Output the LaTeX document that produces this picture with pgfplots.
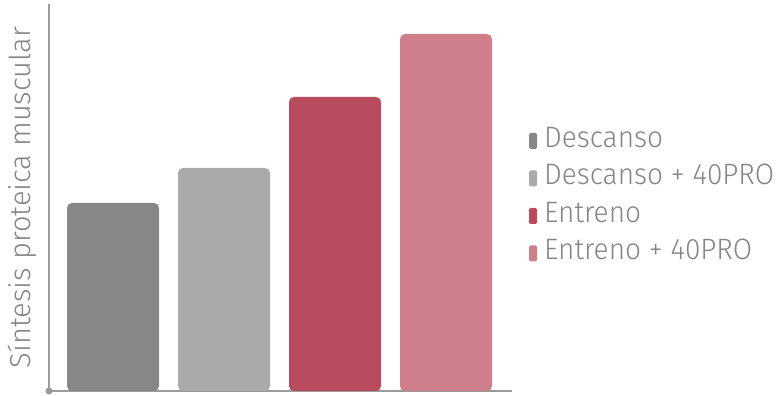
\documentclass[border=0pt]{standalone}
\usepackage{pgfplots}
\pgfplotsset{compat=1.18}
\usepackage{fontspec}
\setmainfont{Fira Sans}[UprightFont=* Light]
\newfontfamily\legfont{Fira Sans}[UprightFont=* Light, FakeStretch=0.95]
\definecolor{cA}{HTML}{878787}
\definecolor{cB}{HTML}{AAAAAA}
\definecolor{cC}{HTML}{B84B5E}
\definecolor{cD}{HTML}{CF7F8C}
\definecolor{txt}{HTML}{858585}
\definecolor{axc}{HTML}{9A9A9A}
\begin{document}
\begin{tikzpicture}
\useasboundingbox (0,0) rectangle (779pt,396pt);
\begin{axis}[
  at={(49pt,5pt)}, anchor=south west,
  scale only axis, width=463pt, height=387pt,
  xmin=49, xmax=512, ymin=0, ymax=387,
  axis x line*=bottom, axis y line*=left,
  axis line style={draw=axc, line width=2pt, -},
  xtick=\empty, ytick=\empty,
  ylabel={Síntesis proteica muscular},
  ylabel style={at={(axis description cs:-0.058,0.5)}, anchor=center, font=\fontsize{29}{30}\selectfont, text=txt},
  ybar, bar width=92, bar shift=0pt,
  every axis plot/.append style={draw=none, rounded corners=5pt},
  legend style={at={(axis description cs:1.0365,0.695)}, anchor=north west, draw=none, fill=none,
    font=\legfont\fontsize{29.5}{30}\selectfont, text=txt, row sep=0pt,
    inner sep=0pt, cells={anchor=west},
    nodes={text height=22pt, text depth=9.5pt, inner sep=3pt}},
  legend cell align=left,
  legend image code/.code={\fill[#1, rounded corners=1.5pt] (0pt,-8pt) rectangle (8pt,8pt); \path (12pt,0pt);},
  clip=false,
]
\addplot[fill=cA] coordinates {(113,188)};
\addplot[fill=cB] coordinates {(224,223)};
\addplot[fill=cC] coordinates {(335,294)};
\addplot[fill=cD] coordinates {(446,357)};
\legend{Descanso, Descanso + 40PRO, Entreno, Entreno + 40PRO}
\fill[axc] (axis cs:49,0) circle (3.5pt);
\end{axis}
\end{tikzpicture}
\end{document}
